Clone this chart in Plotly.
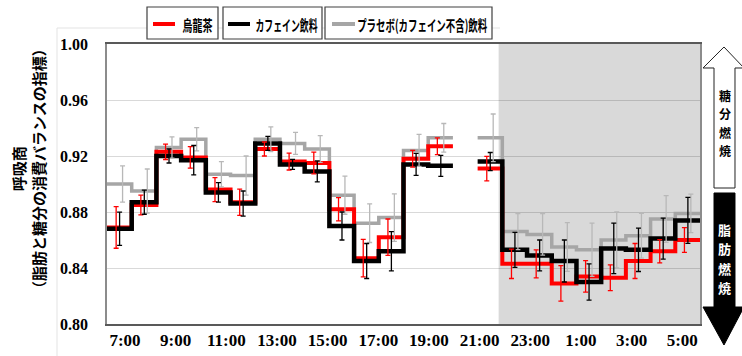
import json
import plotly.graph_objects as go

# ---------------- data (hourly bins, 7:00 .. 6:00; bin 14 missing) ----------------
oolong = [0.869, 0.885, 0.923, 0.919, 0.896, 0.887, 0.925, 0.916, 0.915, 0.882, 0.847, 0.862,
          0.918, 0.927, None, 0.911, 0.843, 0.843, 0.829, 0.834, 0.833, 0.845, 0.852, 0.860]
oolong_err = [0.0149, 0.007, 0.0055, 0.0077, 0.0086, 0.0094, 0.005, 0.006, 0.0077, 0.0083, 0.0134, 0.013,
              0.006, 0.006, None, 0.0087, 0.0105, 0.010, 0.0127, 0.0113, 0.0092, 0.0125, 0.0083, 0.0089]
caffeine = [0.868, 0.887, 0.920, 0.917, 0.894, 0.886, 0.929, 0.914, 0.909, 0.870, 0.845, 0.852,
            0.914, 0.913, None, 0.916, 0.853, 0.849, 0.845, 0.830, 0.854, 0.853, 0.861, 0.874]
caffeine_err = [0.0119, 0.0086, 0.005, 0.0105, 0.007, 0.009, 0.005, 0.0036, 0.0075, 0.010, 0.0125, 0.014,
                0.0079, 0.0075, None, 0.0065, 0.0125, 0.011, 0.015, 0.013, 0.018, 0.0155, 0.0146, 0.0164]
placebo = [0.900, 0.895, 0.926, 0.932, 0.907, 0.906, 0.932, 0.929, 0.925, 0.892, 0.872, 0.876,
           0.924, 0.933, None, 0.933, 0.866, 0.864, 0.855, 0.853, 0.860, 0.863, 0.875, 0.879]
placebo_err = [0.013, 0.0157, 0.0076, 0.0083, 0.009, 0.014, 0.0088, 0.0079, 0.0095, 0.0136, 0.0138, 0.017,
               0.0114, 0.0102, None, 0.017, 0.0129, 0.0148, 0.0174, 0.019, 0.020, 0.016, 0.0167, 0.0138]

tick_labels = ["7:00", "9:00", "11:00", "13:00", "15:00", "17:00", "19:00",
               "21:00", "23:00", "1:00", "3:00", "5:00"]
series_names = ["烏龍茶", "カフェイン飲料", "プラセボ(カフェイン不含)飲料"]
y_ticks = [0.80, 0.84, 0.88, 0.92, 0.96, 1.00]
night_start = 15.85  # sleep period shading start (bin units)

# ---------------- layout geometry ----------------
W, H = 742, 356
ML, MR, MT, MB = 107, 42, 44, 32
PW, PH = W - ML - MR, H - MT - MB


def px_x(p):
    return (p - ML) / PW


def px_y(p):
    return (H - MB - p) / PH


def step_xy(vals):
    xs, ys = [], []
    for k, v in enumerate(vals):
        if v is None:
            xs.append(None)
            ys.append(None)
            continue
        xs += [k, k + 1]
        ys += [v, v]
    return xs, ys


fig = go.Figure()

# drawing order: placebo, oolong, caffeine (black on top, as in the reference)
styles = [
    # (name, values, errors, line color, width, err color, err offset)
    (series_names[2], placebo, placebo_err, "#a6a6a6", 3.5, "#b8b8b8", 0.13),
    (series_names[0], oolong, oolong_err, "#ff0000", 4.0, "#ff0000", -0.13),
    (series_names[1], caffeine, caffeine_err, "#000000", 4.5, "#000000", 0.01),
]

for nm, vals, errs, col, lw, ecol, off in styles:
    xs, ys = step_xy(vals)
    fig.add_trace(go.Scatter(x=xs, y=ys, mode="lines", line=dict(color=col, width=lw),
                             connectgaps=False, name=nm, showlegend=False, hoverinfo="skip"))

for nm, vals, errs, col, lw, ecol, off in styles:
    ex = [k + 0.5 + off for k, v in enumerate(vals) if v is not None]
    ey = [v for v in vals if v is not None]
    ee = [e for e in errs if e is not None]
    fig.add_trace(go.Scatter(x=ex, y=ey, mode="markers",
                             marker=dict(size=1, color="rgba(0,0,0,0)"),
                             error_y=dict(type="data", array=ee, visible=True,
                                          color=ecol, thickness=1.3, width=2.5),
                             showlegend=False, hoverinfo="skip", name=nm))

shapes = []
# night shading
shapes.append(dict(type="rect", xref="x", yref="paper", x0=night_start, x1=24, y0=0, y1=1,
                   fillcolor="#d9d9d9", line=dict(width=0), layer="below"))
# faint outer chart frame
shapes.append(dict(type="line", xref="paper", yref="paper", x0=px_x(57), x1=px_x(57),
                   y0=px_y(28), y1=px_y(356), line=dict(color="#e3e3e3", width=1)))
shapes.append(dict(type="line", xref="paper", yref="paper", x0=px_x(57), x1=px_x(500),
                   y0=px_y(28), y1=px_y(28), line=dict(color="#e3e3e3", width=1)))

# legend boxes
legend_boxes = [(147, 218), (223, 322), (325, 492)]
legend_line_x = [(153, 175), (228, 250), (332, 355)]
legend_text_span = [(182, 212), (255, 317), (357, 487)]
legend_colors = ["#ff0000", "#000000", "#a6a6a6"]
for (b0, b1), (l0, l1), c in zip(legend_boxes, legend_line_x, legend_colors):
    shapes.append(dict(type="rect", xref="paper", yref="paper", x0=px_x(b0), x1=px_x(b1),
                       y0=px_y(39), y1=px_y(7), fillcolor="white",
                       line=dict(color="#404040", width=1.2)))
    shapes.append(dict(type="line", xref="paper", yref="paper", x0=px_x(l0), x1=px_x(l1),
                       y0=px_y(24), y1=px_y(24), line=dict(color=c, width=4)))


def path(points):
    s = "M " + " L ".join(f"{px_x(a):.5f},{px_y(b):.5f}" for a, b in points) + " Z"
    return s


up_arrow = [(724, 47), (744, 68), (735, 68), (735, 188), (714, 188), (714, 68), (703, 68)]
down_arrow = [(714, 193), (735, 193), (735, 307), (744, 307), (724, 345), (703, 307), (714, 307)]
shapes.append(dict(type="path", xref="paper", yref="paper", path=path(up_arrow),
                   fillcolor="white", line=dict(color="#222222", width=1)))
shapes.append(dict(type="path", xref="paper", yref="paper", path=path(down_arrow),
                   fillcolor="black", line=dict(color="black", width=1)))

JP = "Noto Sans CJK JP"
annotations = []
for (t0, t1), txt in zip(legend_text_span, series_names):
    annotations.append(dict(xref="paper", yref="paper", x=px_x((t0 + t1) / 2), y=px_y(24),
                            text=txt, showarrow=False, xanchor="center", yanchor="middle",
                            font=dict(family=JP, size=15, color="black", weight="bold")))

annotations.append(dict(xref="paper", yref="paper", x=px_x(28), y=px_y(169),
                        text="呼吸商<br>（脂肪と糖分の消費バランスの指標）", textangle=-90,
                        showarrow=False, xanchor="center", yanchor="middle",
                        font=dict(family=JP, size=15, color="black", weight="bold")))

# vertical captions inside the arrows, one character per annotation
for txt, y0, step, size, col in [("糖分燃焼", 95, 18.5, 12, "black"),
                                  ("脂肪燃焼", 229, 19.5, 13, "white")]:
    for i, ch in enumerate(txt):
        annotations.append(dict(xref="paper", yref="paper", x=px_x(724.5), y=px_y(y0 + i * step),
                                text=ch, showarrow=False, xanchor="center", yanchor="middle",
                                font=dict(family=JP, size=size, color=col, weight="bold")))

tick_pos = [0.73 + 2.05 * i for i in range(len(tick_labels))]

fig.update_layout(
    width=W, height=H,
    margin=dict(l=ML, r=MR, t=MT, b=MB, pad=0, autoexpand=False),
    paper_bgcolor="white", plot_bgcolor="white",
    shapes=shapes, annotations=annotations,
    showlegend=False,
    xaxis=dict(range=[0, 24], tickvals=tick_pos, ticktext=tick_labels, automargin=False,
               showgrid=False, zeroline=False, showline=True, mirror=True,
               linecolor="#595959", linewidth=1.5, ticks="", ticklabelstandoff=0,
               tickfont=dict(family="Liberation Serif", size=17, color="black", weight="bold")),
    yaxis=dict(range=[0.80, 1.00], tickvals=y_ticks, tickformat=".2f", automargin=False,
               showgrid=True, gridcolor="rgba(0,0,0,0.15)", gridwidth=1,
               zeroline=False, showline=True, mirror=True,
               linecolor="#8c8c8c", linewidth=1.5, ticks="", ticklabelstandoff=14,
               tickfont=dict(family="Liberation Serif", size=16, color="black", weight="bold")),
)

# condense the legend captions horizontally to the widths seen in the reference
targets = {txt: (t1 - t0) for (t0, t1), txt in zip(legend_text_span, series_names)}
post = """
var gd = document.getElementById('{plot_id}');
var T = %s;
function squeeze(){
  document.querySelectorAll('text.annotation-text').forEach(function(t){
    var s = t.textContent;
    if (T[s] !== undefined){
      t.setAttribute('textLength', T[s]);
      t.setAttribute('lengthAdjust', 'spacingAndGlyphs');
    }
  });
}
squeeze();
if (gd && gd.on){ gd.on('plotly_afterplot', squeeze); }
""" % json.dumps(targets, ensure_ascii=False)

fig.write_html("out.html", post_script=post)
